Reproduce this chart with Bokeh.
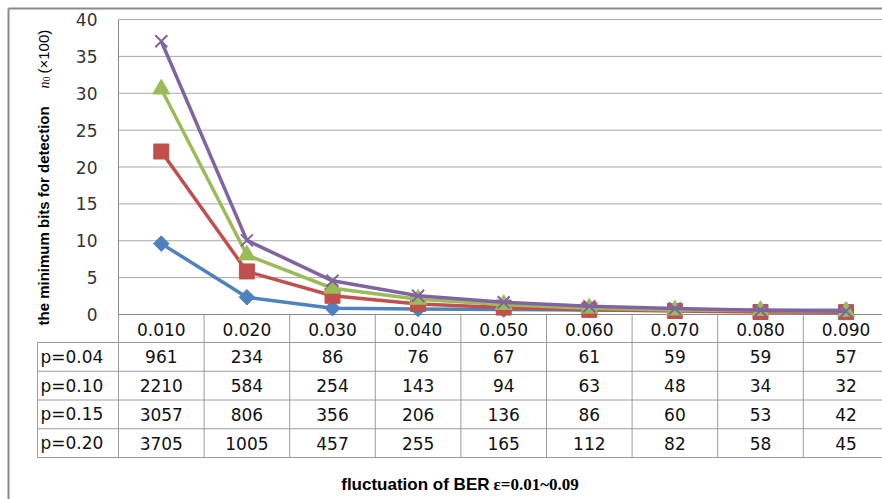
import numpy as np
from bokeh.plotting import figure
from bokeh.models import Range1d
from bokeh.core.properties import value
from bokeh.embed import file_html
from bokeh.resources import INLINE

# ---------------- data ----------------
categories = ["0.010", "0.020", "0.030", "0.040", "0.050", "0.060", "0.070", "0.080", "0.090"]
series_names = ["p=0.04", "p=0.10", "p=0.15", "p=0.20"]
p004 = [961, 234, 86, 76, 67, 61, 59, 59, 57]
p010 = [2210, 584, 254, 143, 94, 63, 48, 34, 32]
p015 = [3057, 806, 356, 206, 136, 86, 60, 53, 42]
p020 = [3705, 1005, 457, 255, 165, 112, 82, 58, 45]
y_ticks = [0, 5, 10, 15, 20, 25, 30, 35, 40]
unit = 100  # plotted in units of 100 bits

series_values = [p004, p010, p015, p020]
colors = ["#4F81BD", "#C0504D", "#9BBB59", "#8064A2"]

# ---------------- layout ----------------
W, H = 882, 499
X0, CW = 118.0, 85.6          # pixel of first category edge, column width
Y0, PPU = 314.0, 295.0 / 40   # pixel of y=0, pixels per unit


def px2x(px):
    return (px - X0) / CW


def py2y(py):
    return (Y0 - py) / PPU


p = figure(width=W, height=H,
           x_range=Range1d(px2x(0), px2x(W)), y_range=Range1d(py2y(H), py2y(0)),
           x_axis_type=None, y_axis_type=None, min_border=0,
           toolbar_location=None, output_backend="svg", outline_line_color=None)
p.background_fill_color = "white"
p.border_fill_color = "white"

FONT = value("DejaVu Sans")
xmax = px2x(W + 10)

# outer chart border
p.segment(x0=[px2x(8), px2x(8)], y0=[py2y(8), py2y(8)], x1=[px2x(8), xmax], y1=[py2y(H + 5), py2y(8)],
          line_color="#8a8a8a", line_width=2)

# gridlines
grid_vals = [t for t in y_ticks if t > 0]
p.segment(x0=[0] * len(grid_vals), y0=grid_vals, x1=[xmax] * len(grid_vals), y1=grid_vals,
          line_color="#a8a8a8", line_width=1)

# y tick labels
p.text(x=[px2x(97)] * len(y_ticks), y=y_ticks, text=[str(t) for t in y_ticks],
       text_align="right", text_baseline="middle", text_font=FONT,
       text_font_size="17px", text_color="#333333")

# ---------------- table ----------------
row_top = 342.0
row_h = 28.75
table_bottom = row_top + 4 * row_h
n = len(categories)
# horizontal lines
hl = [row_top + r * row_h for r in range(5)]
p.segment(x0=[px2x(37)] * 5, y0=[py2y(v) for v in hl], x1=[xmax] * 5, y1=[py2y(v) for v in hl],
          line_color="#9a9a9a", line_width=1)
# vertical lines at category boundaries
p.segment(x0=list(range(n + 1)), y0=[0] * (n + 1), x1=list(range(n + 1)), y1=[py2y(table_bottom)] * (n + 1),
          line_color="#9a9a9a", line_width=1)
p.segment(x0=[px2x(37)], y0=[py2y(row_top)], x1=[px2x(37)], y1=[py2y(table_bottom)],
          line_color="#9a9a9a", line_width=1)

xc = [i + 0.5 for i in range(n)]
# header
p.text(x=xc, y=[py2y(328.5)] * n, text=categories, text_align="center", text_baseline="middle",
       text_font=FONT, text_font_size="17px", text_color="#111111")
for r, (name, vals) in enumerate(zip(series_names, series_values)):
    yc = py2y(row_top + (r + 0.5) * row_h)
    p.text(x=[px2x(40)], y=[yc], text=[name], text_align="left", text_baseline="middle",
           text_font=FONT, text_font_size="17px", text_color="#111111")
    p.text(x=xc, y=[yc] * n, text=[str(v) for v in vals], text_align="center", text_baseline="middle",
           text_font=FONT, text_font_size="17px", text_color="#111111")

# axes lines
p.segment(x0=[0, 0], y0=[0, 0], x1=[0, xmax], y1=[y_ticks[-1], 0], line_color="#888888", line_width=1)

# ---------------- series ----------------
markers = ["square", "square", "triangle", "x"]
sizes = [11, 15, 17, 17]
angles = [np.pi / 4, 0, 0, 0]
for vals, col, mk, sz, ang in zip(series_values, colors, markers, sizes, angles):
    ys = np.array(vals) / unit
    p.line(xc, ys, line_color=col, line_width=3.5, line_join="round")
    if mk == "x":
        p.scatter(xc, ys, marker=mk, size=sz, line_color=col, line_width=2)
    else:
        p.scatter(xc, ys, marker=mk, size=sz, angle=ang, fill_color=col, line_color=col)

# ---------------- titles ----------------
# y title (rotated)
p.text(x=[px2x(43)], y=[py2y(325)], text=["the minimum bits for detection"], angle=np.pi / 2,
       text_align="left", text_baseline="middle", text_font=value("Liberation Sans"),
       text_font_style="bold", text_font_size="15px", text_color="#000000")
p.text(x=[px2x(44)], y=[py2y(88)], text=["n"], angle=np.pi / 2,
       text_align="left", text_baseline="middle", text_font=value("Liberation Serif"),
       text_font_style="italic", text_font_size="14px", text_color="#000000")
p.text(x=[px2x(46)], y=[py2y(81)], text=["0"], angle=np.pi / 2,
       text_align="left", text_baseline="middle", text_font=value("Liberation Serif"),
       text_font_size="10px", text_color="#000000")
p.text(x=[px2x(43)], y=[py2y(73)], text=["(×100)"], angle=np.pi / 2,
       text_align="left", text_baseline="middle", text_font=value("Liberation Sans"),
       text_font_size="15px", text_color="#000000")

# x title
p.text(x=[px2x(489)], y=[py2y(484)], text=["fluctuation of BER"], text_align="right",
       text_baseline="middle", text_font=value("Liberation Sans"), text_font_style="bold",
       text_font_size="17px", text_color="#000000")
p.text(x=[px2x(493)], y=[py2y(484)], text=["ε=0.01~0.09"], text_align="left",
       text_baseline="middle", text_font=value("Liberation Serif"), text_font_style="bold",
       text_font_size="17px", text_color="#000000")

open("out.html", "w").write(file_html(p, INLINE))
